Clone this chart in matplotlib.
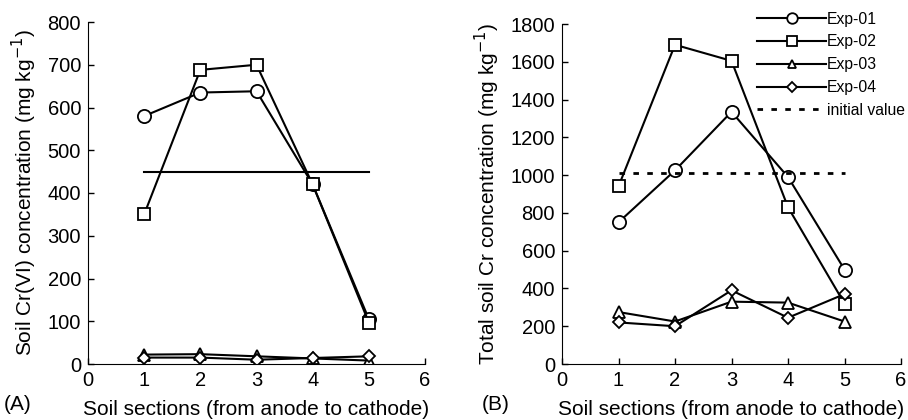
import matplotlib
matplotlib.use("Agg")
import matplotlib.pyplot as plt

plt.rcParams['font.family'] = ['Liberation Sans', 'DejaVu Sans']

sections = [1, 2, 3, 4, 5]
series_names = ["Exp-01", "Exp-02", "Exp-03", "Exp-04"]
markers = ["o", "s", "^", "D"]
msizes = [9.5, 9, 8, 6]

cr6_exp01 = [580, 635, 638, 420, 105]
cr6_exp02 = [350, 688, 700, 420, 97]
cr6_exp03 = [22, 23, 18, 13, 8]
cr6_exp04 = [15, 15, 10, 14, 18]
cr6_initial = 448

tot_exp01 = [750, 1025, 1335, 990, 500]
tot_exp02 = [940, 1690, 1605, 830, 320]
tot_exp03 = [275, 225, 330, 325, 225]
tot_exp04 = [220, 200, 390, 245, 370]
tot_initial = 1010

fig = plt.figure(figsize=(9.08, 4.2), dpi=100)
W, H = 908, 420
axA = fig.add_axes([88 / W, 1 - 364 / H, (425 - 88) / W, (364 - 22) / H])
axB = fig.add_axes([562 / W, 1 - 364 / H, (901 - 562) / W, (364 - 24) / H])

def style(ax):
    for s in ["top", "right"]:
        ax.spines[s].set_visible(False)
    ax.tick_params(direction="in", labelsize=14.5, length=4, width=1, pad=5)
    ax.set_xlim(0, 6)
    ax.set_xticks(range(0, 7))
    ax.set_xlabel("Soil sections (from anode to cathode)", fontsize=15, labelpad=7)

for ax, data in [(axA, [cr6_exp01, cr6_exp02, cr6_exp03, cr6_exp04]),
                 (axB, [tot_exp01, tot_exp02, tot_exp03, tot_exp04])]:
    for name, m, ms, vals in zip(series_names, markers, msizes, data):
        ax.plot(sections, vals, color="black", lw=1.5, marker=m, ms=ms,
                mfc="white", mec="black", mew=1.3, label=name)
    style(ax)

axA.plot([sections[0], sections[-1]], [cr6_initial, cr6_initial], color="black", lw=1.5)
axA.set_ylim(0, 800)
axA.set_yticks(range(0, 801, 100))
axA.set_ylabel("Soil Cr(VI) concentration (mg kg$^{-1}$)", fontsize=15, labelpad=6)

axB.plot([sections[0], sections[-1]], [tot_initial, tot_initial], color="black", lw=2,
         ls=(0, (2, 3)), label="initial value")
axB.set_ylim(0, 1800)
axB.set_yticks(range(0, 1801, 200))
axB.set_ylabel("Total soil Cr concentration (mg kg$^{-1}$)", fontsize=15, labelpad=6)
leg = axB.legend(loc="upper right", bbox_to_anchor=(1.03, 1.055), frameon=False,
                 fontsize=11.3, handlelength=4.4, handletextpad=0.05, labelspacing=0.5,
                 borderaxespad=0, markerscale=0.8)

fig.text(4 / W, 1 - 404 / H, "(A)", fontsize=15, va="center", ha="left")
fig.text(482 / W, 1 - 404 / H, "(B)", fontsize=15, va="center", ha="left")

fig.savefig("out.png", dpi=100)
